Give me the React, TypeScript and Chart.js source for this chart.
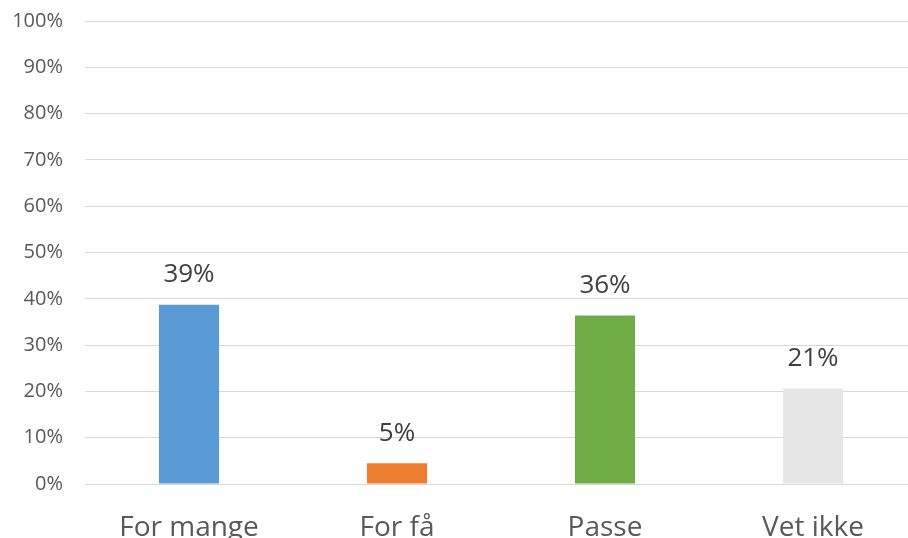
import React, { useEffect, useRef } from "react";
import { Chart, registerables } from "chart.js";

Chart.register(...registerables);

const categories = ["For mange", "For få", "Passe", "Vet ikke"];
const values = [38.7, 4.5, 36.4, 20.6];
const colors = ["#5B9BD5", "#ED7D31", "#70AD47", "#E7E6E6"];
const yTicks = [0, 10, 20, 30, 40, 50, 60, 70, 80, 90, 100];

const FONT = "'Open Sans', 'Liberation Sans', sans-serif";

const dataLabelPlugin = {
  id: "dataLabels",
  afterDatasetsDraw(chart: any) {
    const ctx = chart.ctx;
    const meta = chart.getDatasetMeta(0);
    ctx.save();
    ctx.font = `26px ${FONT}`;
    ctx.fillStyle = "#404040";
    ctx.textAlign = "center";
    ctx.textBaseline = "middle";
    meta.data.forEach((bar: any, i: number) => {
      const v = values[i];
      ctx.fillText(Math.round(v) + "%", bar.x, bar.y - 30);
    });
    ctx.restore();
  },
};

export default function App() {
  const ref = useRef<HTMLCanvasElement>(null);
  useEffect(() => {
    document.body.style.margin = "0";
    document.body.style.overflow = "hidden";
    const chart = new Chart(ref.current!, {
      type: "bar",
      data: {
        labels: categories,
        datasets: [
          {
            data: values,
            backgroundColor: colors,
            borderWidth: 0,
            categoryPercentage: 1,
            barPercentage: 0.289,
          },
        ],
      },
      options: {
        animation: false,
        responsive: false,
        maintainAspectRatio: false,
        layout: { padding: { top: 21, right: 0, left: 0, bottom: 0 } },
        plugins: { legend: { display: false }, tooltip: { enabled: false } },
        scales: {
          x: {
            grid: { display: false, drawTicks: false },
            border: { display: false },
            ticks: {
              font: { family: FONT, size: 28 },
              color: "#595959",
              padding: 27,
              maxRotation: 0,
            },
            afterFit(scale: any) {
              scale.height = 54;
              scale.paddingLeft = 0;
              scale.paddingRight = 0;
            },
          },
          y: {
            min: 0,
            max: 100,
            afterBuildTicks(scale: any) {
              scale.ticks = yTicks.map((v) => ({ value: v }));
            },
            grid: { color: "#D9D9D9", lineWidth: 1, drawTicks: false },
            border: { display: false },
            ticks: {
              font: { family: FONT, size: 20 },
              color: "#595959",
              padding: 22,
              callback: (v: any) => v + "%",
            },
            afterFit(scale: any) {
              scale.width = 85;
              scale.paddingTop = 0;
              scale.paddingBottom = 0;
            },
          },
        },
      },
      plugins: [dataLabelPlugin],
    });
    return () => chart.destroy();
  }, []);
  return (
    <div style={{ width: 908, height: 538, overflow: "hidden" }}>
      <canvas ref={ref} width={917} height={538} style={{ display: "block" }} />
    </div>
  );
}
